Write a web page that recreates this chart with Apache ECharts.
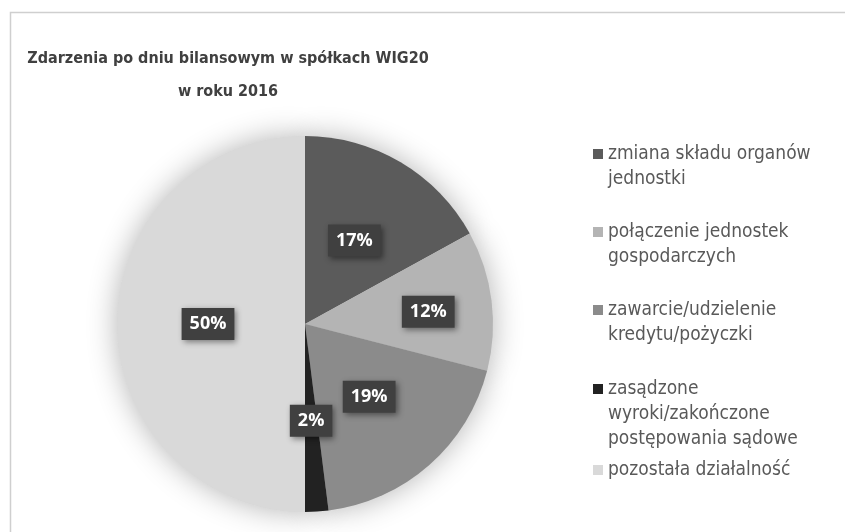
<!DOCTYPE html>
<html lang="pl">
<head>
<meta charset="UTF-8">
<title>Zdarzenia po dniu bilansowym</title>
<script type="text/javascript" src="https://cdn.jsdelivr.net/npm/echarts@6/dist/echarts.min.js"></script>
<style>
  body { margin: 0; background: #fff; }
</style>
</head>
<body>
<div id="main" style="width: 845px;height:532px;"></div>
<script type="text/javascript">
// dane wykresu
var categories = [
    'zmiana składu organów jednostki',
    'połączenie jednostek gospodarczych',
    'zawarcie/udzielenie kredytu/pożyczki',
    'zasądzone wyroki/zakończone postępowania sądowe',
    'pozostała działalność'
];
var legendLines = [
    ['zmiana składu organów', 'jednostki'],
    ['połączenie jednostek', 'gospodarczych'],
    ['zawarcie/udzielenie', 'kredytu/pożyczki'],
    ['zasądzone', 'wyroki/zakończone', 'postępowania sądowe'],
    ['pozostała działalność']
];
var values = [17, 12, 19, 2, 50];

var palette = ['#5b5b5b', '#b4b4b4', '#8b8b8b', '#222222', '#d9d9d9'];
var legendIconY = [154, 232, 310, 389, 470];
var LH = 25;
var FONT = "'DejaVu Sans Condensed', Roboto, sans-serif";

var myChart = echarts.init(document.getElementById('main'));

var pieData = categories.map(function (name, i) {
    var item = { name: name, value: values[i], itemStyle: { color: palette[i] } };
    if (i === 1) {
        item.label = { offset: [27, 0] };
    }
    return item;
});

// osobna legenda dla każdej pozycji, ikona przy pierwszym wierszu
var legends = categories.map(function (name, i) {
    var n = legendLines[i].length;
    var lead = new Array(n).join('\n');
    return {
        orient: 'vertical',
        left: 593,
        top: legendIconY[i] - (2 * n - 1) * LH / 2,
        padding: 0,
        itemWidth: 10,
        itemHeight: 10,
        itemGap: 0,
        icon: 'rect',
        selectedMode: false,
        data: [name],
        formatter: function () { return lead + legendLines[i].join('\n'); },
        textStyle: {
            fontFamily: FONT,
            fontSize: 19,
            lineHeight: LH,
            color: '#595959'
        }
    };
});

var option = {
    animation: false,
    title: {
        text: 'Zdarzenia po dniu bilansowym w spółkach WIG20\nw roku 2016',
        left: 228,
        top: 42,
        padding: 0,
        textAlign: 'center',
        textStyle: {
            fontFamily: FONT,
            fontWeight: 'bold',
            fontSize: 16,
            lineHeight: 33,
            color: '#404040'
        }
    },
    graphic: [{
        type: 'rect',
        silent: true,
        shape: { x: 10.5, y: 12.5, width: 900, height: 600 },
        style: { fill: 'none', stroke: '#cfcfcf', lineWidth: 1.5 }
    }],
    legend: legends,
    series: [
        {
            type: 'pie',
            z: 3,
            center: [305, 324],
            radius: 188,
            startAngle: 90,
            clockwise: true,
            data: pieData,
            label: {
                show: true,
                position: 'inside',
                formatter: function (p) { return Math.round(p.percent) + '%'; },
                color: '#ffffff',
                fontFamily: 'Open Sans',
                fontWeight: 'bold',
                fontSize: 18,
                backgroundColor: '#404040',
                padding: [7, 8],
                shadowBlur: 6,
                shadowOffsetX: 2,
                shadowOffsetY: 2,
                shadowColor: 'rgba(0,0,0,0.45)'
            },
            labelLine: { show: false },
            emphasis: { disabled: true }
        },
        {
            // miękki cień pod całym kołem
            type: 'pie',
            z: 1,
            silent: true,
            legendHoverLink: false,
            center: [305, 324],
            radius: 188,
            startAngle: 90,
            data: categories.map(function (name, i) { return { name: name, value: values[i] }; }),
            itemStyle: {
                color: '#d9d9d9',
                shadowBlur: 30,
                shadowColor: 'rgba(0,0,0,0.3)'
            },
            label: { show: false },
            labelLine: { show: false }
        }
    ]
};

myChart.setOption(option);
</script>
</body>
</html>
